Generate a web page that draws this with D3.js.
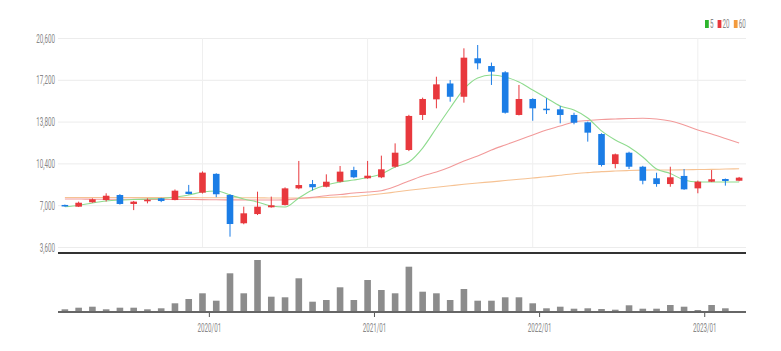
<!DOCTYPE html>
<html>
<head>
  <meta charset="utf-8">
  <title>Candle chart</title>
  <script src="https://cdn.jsdelivr.net/npm/d3@7"></script>
  <style>
    body { margin: 0; background: #fff; }
    text { font-family: Roboto, sans-serif; }
  </style>
</head>
<body>
<script>
// months (categories)
var months = ["2019/03","2019/04","2019/05","2019/06","2019/07","2019/08","2019/09","2019/10","2019/11","2019/12",
  "2020/01","2020/02","2020/03","2020/04","2020/05","2020/06","2020/07","2020/08","2020/09","2020/10","2020/11","2020/12",
  "2021/01","2021/02","2021/03","2021/04","2021/05","2021/06","2021/07","2021/08","2021/09","2021/10","2021/11","2021/12",
  "2022/01","2022/02","2022/03","2022/04","2022/05","2022/06","2022/07","2022/08","2022/09","2022/10","2022/11","2022/12",
  "2023/01","2023/02","2023/03","2023/04"];

var opens  = [7020,6880,7240,7420,7830,7100,7380,7560,7420,8100,8020,9550,7830,5530,6280,6830,7020,8370,8720,8500,8910,9860,9190,9270,10130,
  11490,14340,15610,16900,15820,18950,18320,17810,14340,15640,14850,14800,14340,13740,12790,10350,11270,10130,9190,8720,9380,8370,8910,9130,8990];
var closes = [6900,7200,7480,7770,7100,7290,7440,7340,8180,7910,9650,7890,5470,6340,6880,6990,8370,8640,8460,8910,9730,9270,9400,9920,11270,
  14260,15640,16830,15820,19000,18540,17860,14520,15640,14880,14750,14340,13710,12900,10270,11140,10130,8990,8720,9270,8290,8910,9110,8970,9240];
var highs  = [7050,7290,7560,7970,7900,7350,7560,7600,8280,8650,9750,9600,7900,6880,8100,7700,8450,10600,9050,9510,10190,10130,10600,11030,12030,
  14350,15750,17450,17180,19760,20030,18600,17900,16780,15700,15700,15070,14520,13800,12850,11200,11350,10200,9640,10130,9940,9000,9860,9170,9300];
var lows   = [6880,6850,7200,7300,7050,6600,7150,7250,7400,7880,7950,7650,4440,5450,6200,6800,6980,8300,8200,8450,8850,9200,9150,9200,10050,
  11400,13930,14880,15420,15340,18050,16780,14450,14300,13870,14420,13660,13580,12170,10150,10000,9940,8700,8500,8500,8250,7970,8880,8590,8950];

// moving averages
var ma5  = [6880,6980,7180,7340,7420,7460,7500,7550,7670,7830,8070,8160,7830,7500,7260,6940,6850,7590,8240,8640,8890,9050,9250,9540,10110,
  10510,11650,13280,14910,16450,17350,17590,17430,17020,16370,15720,15070,14740,14090,13040,12300,11730,10920,9950,9580,9050,8890,8890,8890,8890];
var ma20 = [7500,7500,7490,7490,7480,7480,7470,7470,7460,7460,7450,7440,7430,7430,7420,7420,7430,7540,7640,7770,7870,7990,8070,8180,8520,
  8970,9380,9700,10110,10600,11000,11490,11900,12300,12710,13120,13440,13770,13890,13970,14010,14050,14070,14010,13850,13520,13120,12790,12430,12060];
var ma60 = [7630,7630,7630,7630,7630,7620,7620,7620,7620,7620,7610,7610,7610,7600,7600,7590,7590,7590,7600,7630,7670,7710,7810,7930,8070,
  8210,8340,8460,8580,8700,8810,8900,9010,9110,9210,9310,9440,9560,9650,9730,9780,9820,9850,9860,9860,9880,9900,9910,9940,9960];

var volumes = [270000,430000,530000,270000,430000,430000,270000,370000,870000,1300000,1870000,1130000,3870000,1870000,5200000,1530000,1470000,3370000,1030000,1200000,
  2470000,1200000,3200000,2200000,1870000,4530000,2030000,1870000,1200000,2300000,1130000,1130000,1470000,1470000,870000,370000,530000,330000,370000,300000,
  230000,670000,330000,330000,700000,530000,200000,700000,370000,100000];

var priceTicks = [3600, 7000, 10400, 13800, 17200, 20600];
var yearTicks = ["2020/01", "2021/01", "2022/01", "2023/01"];
var legendItems = [["5", "#2db52d"], ["20", "#e8383d"], ["60", "#f39a3c"]];

var width = 781, height = 351;
var left = 58, right = 746;
var priceTop = 38, priceBottom = 247;
var volTop = 255, volBottom = 312;
var UP = "#e8383d", DOWN = "#1b7de6";
var sx = 0.5; // narrow text

var svg = d3.select("body").append("svg").attr("width", width).attr("height", height);

var x = d3.scaleBand().domain(months).range([left, right]).padding(0);
var bw = x.bandwidth();
function cx(m) { return x(m) + bw / 2; }

var y = d3.scaleLinear().domain([3600, 20600]).range([priceBottom, priceTop]);
var yv = d3.scaleLinear().domain([0, 5700000]).range([volBottom, volTop]);

// horizontal grid + y labels
var yAxis = svg.append("g")
  .attr("transform", "translate(" + left + ",0)")
  .call(d3.axisLeft(y).tickValues(priceTicks).tickSize(-(right - left)).tickFormat(d3.format(",")));
yAxis.select(".domain").remove();
yAxis.selectAll("line").attr("stroke", "#ececec");
yAxis.selectAll("text")
  .attr("x", -6)
  .attr("fill", "#888")
  .attr("font-size", "12.5px")
  .attr("transform", "scale(" + sx + ",1)");

// vertical grid at years
svg.append("g").selectAll("line").data(yearTicks).enter().append("line")
  .attr("x1", function(d) { return cx(d); })
  .attr("x2", function(d) { return cx(d); })
  .attr("y1", priceTop).attr("y2", priceBottom)
  .attr("stroke", "#efefef");

// moving averages
var line = function(arr) {
  return d3.line()
    .x(function(d, i) { return cx(months[i]); })
    .y(function(d) { return y(d); })
    .curve(d3.curveMonotoneX)(arr);
};
svg.append("path").attr("d", line(ma60)).attr("fill", "none").attr("stroke", "#f6c293").attr("stroke-width", 1.1);
svg.append("path").attr("d", line(ma20)).attr("fill", "none").attr("stroke", "#f29a9a").attr("stroke-width", 1.1);
svg.append("path").attr("d", line(ma5)).attr("fill", "none").attr("stroke", "#8edb8e").attr("stroke-width", 1.1);

// candles
var candles = svg.append("g").selectAll("g").data(months).enter().append("g");
candles.append("line")
  .attr("x1", function(d) { return cx(d); })
  .attr("x2", function(d) { return cx(d); })
  .attr("y1", function(d, i) { return y(highs[i]); })
  .attr("y2", function(d, i) { return y(lows[i]); })
  .attr("stroke", function(d, i) { return closes[i] >= opens[i] ? UP : DOWN; })
  .attr("stroke-width", 1);
candles.append("rect")
  .attr("x", function(d) { return cx(d) - bw * 0.24; })
  .attr("width", bw * 0.48)
  .attr("y", function(d, i) { return y(Math.max(opens[i], closes[i])); })
  .attr("height", function(d, i) { return Math.max(1.5, Math.abs(y(opens[i]) - y(closes[i]))); })
  .attr("fill", function(d, i) { return closes[i] >= opens[i] ? UP : DOWN; });

// separator between panels
svg.append("line")
  .attr("x1", left).attr("x2", right)
  .attr("y1", 253).attr("y2", 253)
  .attr("stroke", "#333").attr("stroke-width", 2);

// volume bars
svg.append("g").selectAll("rect").data(volumes).enter().append("rect")
  .attr("x", function(d, i) { return cx(months[i]) - bw * 0.24; })
  .attr("width", bw * 0.48)
  .attr("y", function(d) { return yv(d); })
  .attr("height", function(d) { return volBottom - yv(d); })
  .attr("fill", "#8c8c8c");

// x axis
var xAxis = svg.append("g")
  .attr("transform", "translate(" + (bw / 2) + "," + volBottom + ")")
  .call(d3.axisBottom(x).tickValues(yearTicks).tickSize(5));
xAxis.select(".domain").remove();
xAxis.selectAll("line").attr("stroke", "#555");
xAxis.selectAll("text")
  .attr("y", 11)
  .attr("fill", "#888")
  .attr("font-size", "12.5px")
  .attr("transform", "scale(" + sx + ",1)");

svg.append("line")
  .attr("x1", left).attr("x2", right)
  .attr("y1", volBottom).attr("y2", volBottom)
  .attr("stroke", "#666").attr("stroke-width", 2);

// legend
var legend = svg.append("g").attr("transform", "translate(705,24)");
var lx = 0;
legendItems.forEach(function(item) {
  legend.append("rect").attr("x", lx).attr("y", -4).attr("width", 3.8).attr("height", 8).attr("fill", item[1]);
  legend.append("text")
    .attr("transform", "translate(" + (lx + 5) + ",0) scale(" + sx + ",1)")
    .attr("dy", "0.35em")
    .attr("fill", "#888")
    .attr("font-size", "12.5px")
    .text(item[0]);
  lx += 5 + item[0].length * 3.6 + 4;
});
</script>
</body>
</html>
